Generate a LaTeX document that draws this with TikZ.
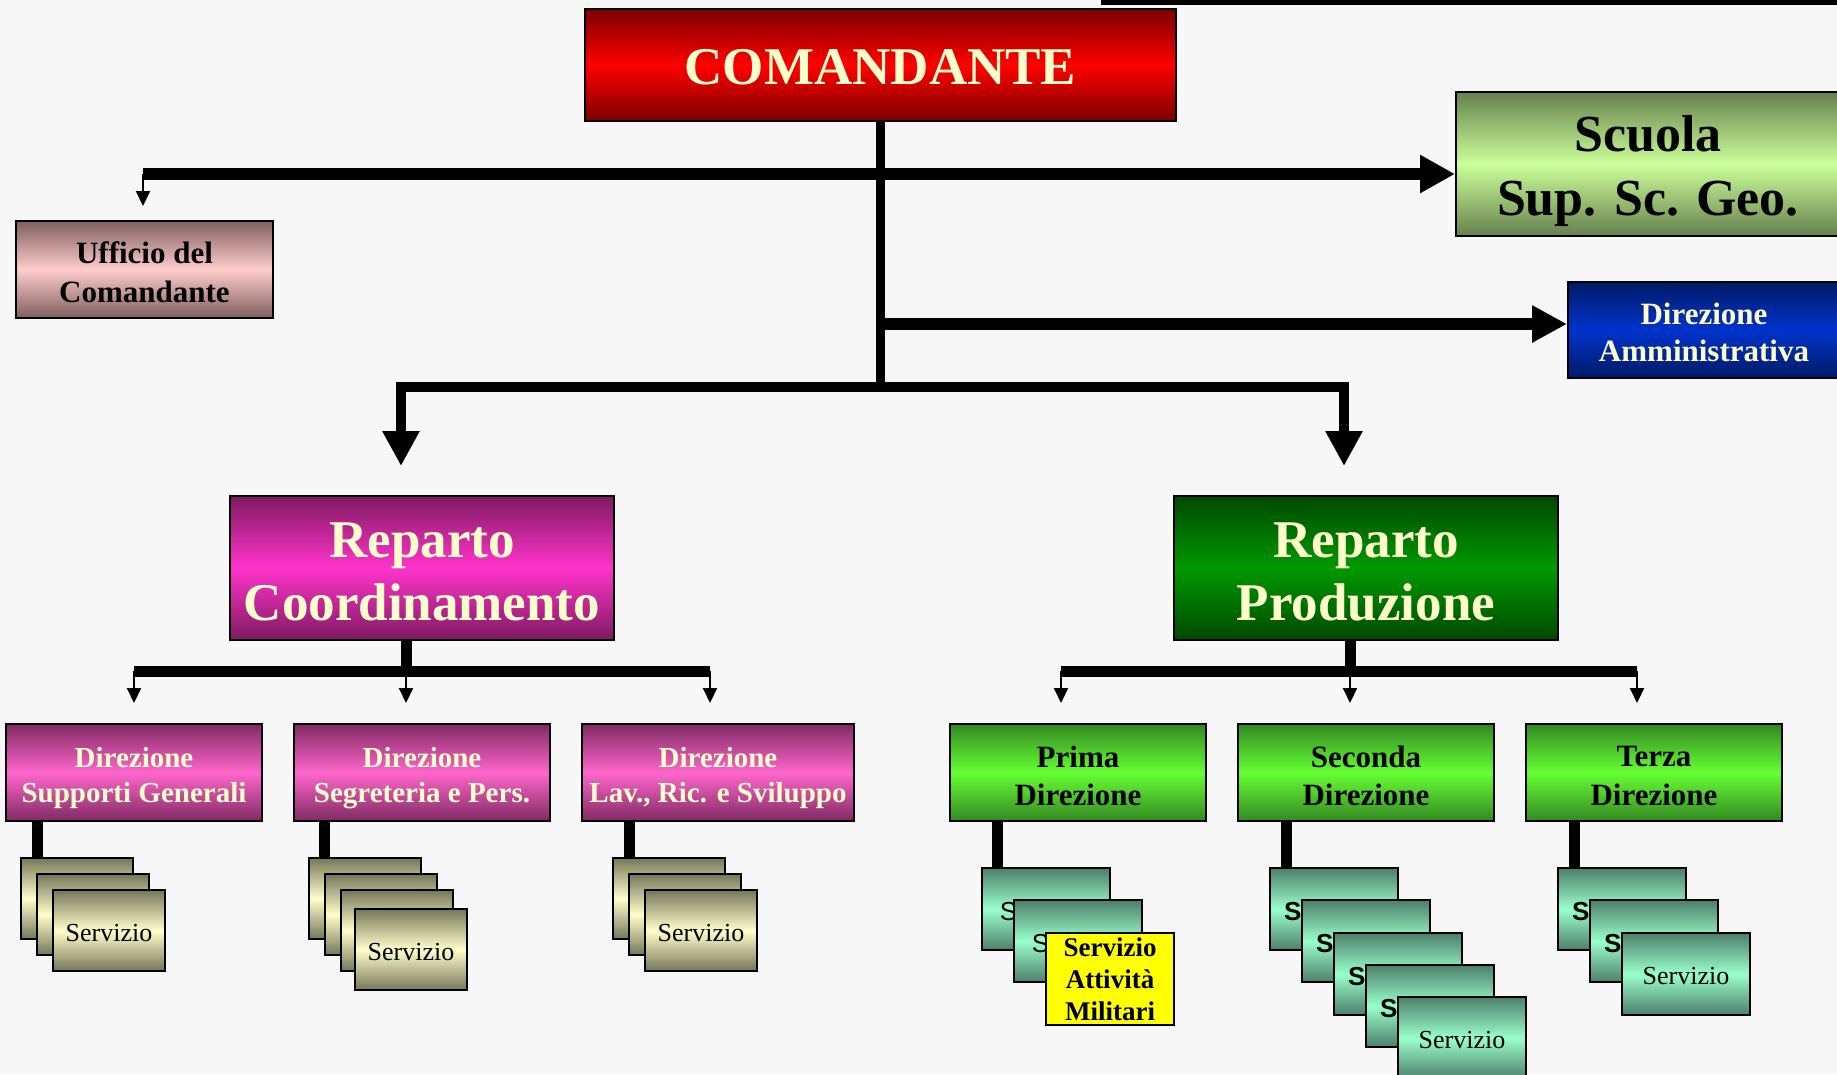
\documentclass[tikz,border=0pt]{standalone}
\usepackage{fontspec}
\setmainfont{Liberation Serif}
\newfontfamily\sansf{Liberation Sans}
\usetikzlibrary{arrows.meta}
\definecolor{bgc}{HTML}{F7F7F7}
\definecolor{cream}{HTML}{FFFFCC}
\definecolor{redD}{HTML}{7A0000}
\definecolor{redM}{HTML}{FF0000}
\definecolor{pinkD}{HTML}{7F5F5F}
\definecolor{pinkM}{HTML}{FFCCCC}
\definecolor{oliveD}{HTML}{66804D}
\definecolor{oliveM}{HTML}{CCFF99}
\definecolor{navyD}{HTML}{001A66}
\definecolor{navyM}{HTML}{0033CC}
\definecolor{magD}{HTML}{7F1A5F}
\definecolor{magM}{HTML}{FF33CC}
\definecolor{dmagD}{HTML}{7F2A62}
\definecolor{dmagM}{HTML}{FF66CC}
\definecolor{prodD}{HTML}{004800}
\definecolor{prodM}{HTML}{009900}
\definecolor{dgrD}{HTML}{338822}
\definecolor{dgrM}{HTML}{66FF33}
\definecolor{khD}{HTML}{76765A}
\definecolor{khM}{HTML}{FFFFCC}
\definecolor{tlD}{HTML}{4D7F6B}
\definecolor{tlM}{HTML}{99FFCC}
\definecolor{yel}{HTML}{FFFF00}
\begin{document}
\begin{tikzpicture}[x=1pt,y=-1pt,
  box/.style={draw=black,line width=2pt,inner sep=0pt,align=center},
  lbl/.style={inner sep=0pt,align=center},
  redsh/.style={top color=redD,bottom color=redD,middle color=redM},
  pinksh/.style={top color=pinkD,bottom color=pinkD,middle color=pinkM},
  olivesh/.style={top color=oliveD,bottom color=oliveD,middle color=oliveM},
  navysh/.style={top color=navyD,bottom color=navyD,middle color=navyM},
  magsh/.style={top color=magD,bottom color=magD,middle color=magM},
  dmagsh/.style={top color=dmagD,bottom color=dmagD,middle color=dmagM},
  prodsh/.style={top color=prodD,bottom color=prodD,middle color=prodM},
  dgrsh/.style={top color=dgrD,bottom color=dgrD,middle color=dgrM},
  khbox/.style={box,top color=khD,bottom color=khD,middle color=khM,minimum width=112pt,minimum height=81pt},
  tlbox/.style={box,top color=tlD,bottom color=tlD,middle color=tlM,minimum width=128pt,minimum height=82pt},
  servf/.style={lbl,font=\fontsize{26}{30}\selectfont,yshift=-2.5pt},
  sansr/.style={lbl,font=\sansf\fontsize{26}{30}\selectfont,yshift=-2.5pt},
  sansb/.style={lbl,font=\sansf\bfseries\fontsize{26}{30}\selectfont,yshift=-2.5pt},
  bigbox/.style={box,minimum width=384pt,minimum height=144pt},
  bigt/.style={lbl,text=cream,font=\fontsize{53}{63}\selectfont\bfseries,yshift=-3.5pt},
  dirbox/.style={box,minimum width=256pt,minimum height=97pt},
  dirct/.style={lbl,text=cream,font=\fontsize{29}{35}\selectfont\bfseries,yshift=-6pt},
  dirpt/.style={lbl,text=black,font=\fontsize{31}{38.6}\selectfont\bfseries,yshift=-3.5pt},
  stem/.style={line width=11pt},
  thinarr/.style={line width=2pt,-{Triangle[length=15pt,width=14pt]}},
  bigtip/.style={-{Triangle[length=35pt,width=36pt]}}
]
\fill[bgc] (0,0) rectangle (1837,1074);
\useasboundingbox (0,0) rectangle (1837,1074);

% stray line at top right
\coordinate (topA) at (1101,2.5);
\coordinate (topB) at (1845,2.5);
\draw[line width=5pt] (topA) -- (topB);

% top level nodes
\node[box,redsh,minimum width=591pt,minimum height=112pt,
  label={[name=cmdT,lbl,text=cream,font=\fontsize{53}{63}\selectfont\bfseries,yshift=-2.5pt]center:COMANDANTE}] (cmd) at (880.5,65) {};
\node[box,olivesh,minimum width=384pt,minimum height=144pt,
  label={[name=scuolaT,lbl,font=\fontsize{52}{64}\selectfont\bfseries,yshift=-7pt]center:{Scuola\\Sup. Sc. Geo.}}] (scuola) at (1648,164) {};
\node[box,pinksh,minimum width=257pt,minimum height=97pt,
  label={[name=uffT,lbl,font=\fontsize{31}{38.6}\selectfont\bfseries,yshift=-2.5pt]center:{Ufficio del\\Comandante}}] (uff) at (144.5,269.5) {};
\node[box,navysh,minimum width=272pt,minimum height=96pt,
  label={[name=dirammT,lbl,text=cream,font=\fontsize{31}{37.5}\selectfont\bfseries,yshift=-2.5pt]center:{Direzione\\Amministrativa}}] (diramm) at (1704,330) {};

\node[bigbox,magsh,label={[name=rcoordT,bigt]center:{Reparto\\Coordinamento}}] (rcoord) at (422,568) {};
\node[bigbox,prodsh,label={[name=rprodT,bigt]center:{Reparto\\Produzione}}] (rprod) at (1366,568) {};

% direzioni
\node[dirbox,dmagsh,label={[name=dsgT,dirct]center:{Direzione\\Supporti Generali}}] (dsg) at (134,772.5) {};
\node[dirbox,dmagsh,label={[name=dspT,dirct]center:{Direzione\\Segreteria e Pers.}}] (dsp) at (422,772.5) {};
\node[dirbox,dmagsh,minimum width=272pt,label={[name=dlavT,dirct]center:{Direzione\\Lav., Ric. e Sviluppo}}] (dlav) at (718,772.5) {};
\node[dirbox,dgrsh,label={[name=d1T,dirpt]center:{Prima\\Direzione}}] (d1) at (1078,772.5) {};
\node[dirbox,dgrsh,label={[name=d2T,dirpt]center:{Seconda\\Direzione}}] (d2) at (1366,772.5) {};
\node[dirbox,dgrsh,label={[name=d3T,dirpt]center:{Terza\\Direzione}}] (d3) at (1654,772.5) {};

% servizio stacks, coordinamento
\node[khbox] (sA1) at (77,898.5) {};
\node[khbox] (sA2) at (93,914.5) {};
\node[khbox,label={[name=sA3T,servf]center:Servizio}] (sA3) at (109,930.5) {};
\node[khbox] (sB1) at (365,898.5) {};
\node[khbox] (sB2) at (381,914.5) {};
\node[khbox,label={[name=sB3T,servf]center:Servizio}] (sB3) at (397,930.5) {};
\node[khbox,label={[name=sB4T,servf]center:Servizio}] (sB4) at (411,949.5) {};
\node[khbox] (sC1) at (669,898.5) {};
\node[khbox] (sC2) at (685,914.5) {};
\node[khbox,label={[name=sC3T,servf]center:Servizio}] (sC3) at (701,930.5) {};

% servizio stacks, produzione
\node[tlbox,label={[name=sP1T,sansr]center:Servizio}] (sP1) at (1046,909) {};
\node[tlbox,label={[name=sP2T,sansr]center:Servizio}] (sP2) at (1078,941) {};
\node[box,fill=yel,minimum width=128pt,minimum height=92pt,
  label={[name=sP3T,lbl,font=\fontsize{27}{32}\selectfont\bfseries]center:{Servizio\\Attività\\Militari}}] (sP3) at (1110,979) {};
\node[tlbox,label={[name=sS1T,sansb]center:Servizio}] (sS1) at (1334,909) {};
\node[tlbox,label={[name=sS2T,sansb]center:Servizio}] (sS2) at (1366,941) {};
\node[tlbox,label={[name=sS3T,sansb]center:Servizio}] (sS3) at (1398,974) {};
\node[tlbox,label={[name=sS4T,sansb]center:Servizio}] (sS4) at (1430,1006) {};
\node[tlbox,label={[name=sS5T,servf]center:Servizio}] (sS5) at (1462,1038) {};
\node[tlbox,label={[name=sT1T,sansb]center:Servizio}] (sT1) at (1622,909) {};
\node[tlbox,label={[name=sT2T,sansb]center:Servizio}] (sT2) at (1654,941) {};
\node[tlbox,label={[name=sT3T,servf]center:Servizio}] (sT3) at (1686,974) {};

% top connectors
\coordinate (j1) at (880.5,174);
\coordinate (jL) at (143,174);
\coordinate (uT) at (143,206);
\coordinate (j2) at (880.5,324);
\coordinate (j3) at (880.5,387);
\coordinate (cL) at (401,387);
\coordinate (cR) at (1344,387);
\coordinate (tL) at (401,466);
\coordinate (tR) at (1344,466);
\draw[line width=9pt] (cmd.south) -- (j3);
\draw[line width=12pt,bigtip] (jL) -- (scuola.west |- j1);
\draw[thinarr] (jL) -- (uT);
\draw[line width=12pt,-{Triangle[length=35pt,width=35pt]}] (j2) -- (diramm.west |- j2);
\draw[line width=10pt,line join=miter,{Triangle[length=35pt,width=35pt]}-{Triangle[length=35pt,width=35pt]}] (tL) -- (cL) -- (cR) -- (tR);

% coordinamento connectors
\coordinate (k0) at (406,671);
\coordinate (k1) at (134,671);
\coordinate (k3) at (710,671);
\coordinate (k1t) at (134,703);
\coordinate (k0t) at (406,703);
\coordinate (k3t) at (710,703);
\draw[stem] (rcoord.south -| k0) -- (k0);
\draw[stem] (k1) -- (k3);
\draw[thinarr] (k1) -- (k1t);
\draw[thinarr] (k0) -- (k0t);
\draw[thinarr] (k3) -- (k3t);

% produzione connectors
\coordinate (m0) at (1350,671);
\coordinate (m1) at (1061,671);
\coordinate (m3) at (1637,671);
\coordinate (m1t) at (1061,703);
\coordinate (m0t) at (1350,703);
\coordinate (m3t) at (1637,703);
\draw[stem] (rprod.south -| m0) -- (m0);
\draw[stem] (m1) -- (m3);
\draw[thinarr] (m1) -- (m1t);
\draw[thinarr] (m0) -- (m0t);
\draw[thinarr] (m3) -- (m3t);

% stems to servizio stacks
\coordinate (stA) at ([xshift=17pt]sA1.north west);
\coordinate (stB) at ([xshift=16pt]sB1.north west);
\coordinate (stC) at ([xshift=17pt]sC1.north west);
\coordinate (stP) at ([xshift=16pt]sP1.north west);
\coordinate (stS) at ([xshift=17pt]sS1.north west);
\coordinate (stT) at ([xshift=17pt]sT1.north west);
\draw[stem] (stA |- dsg.south) -- (stA);
\draw[stem] (stB |- dsp.south) -- (stB);
\draw[stem] (stC |- dlav.south) -- (stC);
\draw[stem] (stP |- d1.south) -- (stP);
\draw[stem] (stS |- d2.south) -- (stS);
\draw[stem] (stT |- d3.south) -- (stT);
\end{tikzpicture}
\end{document}
